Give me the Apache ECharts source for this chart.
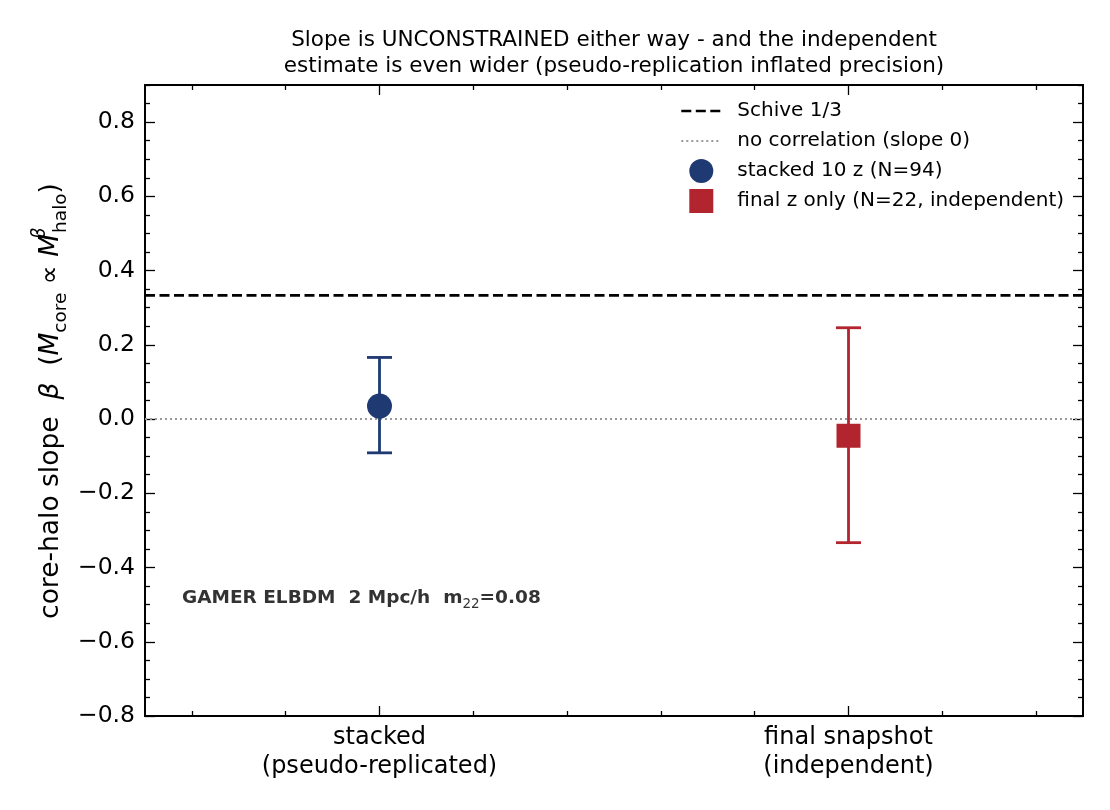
<!DOCTYPE html>
<html>
<head>
<meta charset="utf-8">
<script src="https://cdn.jsdelivr.net/npm/echarts@6/dist/echarts.min.js"></script>
<style>html,body{margin:0;padding:0;background:#fff}#c{width:1110px;height:810px}</style>
</head>
<body>
<div id="c"></div>
<script>
// ---- data ----
const categories = ['stacked\n(pseudo-replicated)', 'final snapshot\n(independent)'];
const xPos = [0, 1];
const slopes = [0.035, -0.045];
const errLow = [-0.091, -0.333];
const errHigh = [0.166, 0.246];
const seriesNames = ['stacked 10 z (N=94)', 'final z only (N=22, independent)'];
const schiveSlope = 1 / 3;
const zeroSlope = 0;
const yTickLabels = [-0.8, -0.6, -0.4, -0.2, 0.0, 0.2, 0.4, 0.6, 0.8];
const xMinorTicks = [-0.4, -0.2, 0.2, 0.4, 0.6, 0.8, 1.2, 1.4];

// ---- style ----
const FONT = 'DejaVu Sans';
const colors = ['#1f3a72', '#b3252e'];
const X_MIN = -0.5, X_MAX = 1.5, Y_MIN = -0.8, Y_MAX = 0.9;
const yMinorTicks = [];
for (let i = -16; i <= 18; i++) {
  const v = +(i * 0.05).toFixed(2);
  if (i % 4 !== 0) yMinorTicks.push(v);
}
const fmt = v => (Math.abs(v) < 1e-9 ? '0.0' : v.toFixed(1)).replace('-', '\u2212');
const schiveStyle = {color: '#000', width: 2.6, type: [10, 4.5]};
const zeroStyle = {color: '#999999', width: 2, type: [2, 3]};

function xAx(pos, ticks, len, labels) {
  return {
    type: 'value', position: pos, min: X_MIN, max: X_MAX,
    splitLine: {show: false},
    axisLine: {show: true, onZero: false, lineStyle: {color: '#000', width: 1.8}},
    axisTick: {show: true, inside: true, length: len, customValues: ticks, lineStyle: {color: '#000', width: 1.3}},
    axisLabel: labels ? {
      show: true, customValues: xPos, margin: 7, fontSize: 24, lineHeight: 29, fontFamily: FONT, color: '#000',
      formatter: v => categories[xPos.indexOf(Math.round(v))] || ''
    } : {show: false}
  };
}
function yAx(pos, ticks, len, labels) {
  return {
    type: 'value', position: pos, min: Y_MIN, max: Y_MAX,
    splitLine: {show: false},
    axisLine: {show: true, onZero: false, lineStyle: {color: '#000', width: 1.8}},
    axisTick: {show: true, inside: true, length: len, customValues: ticks, lineStyle: {color: '#000', width: 1.3}},
    axisLabel: labels ? {
      show: true, customValues: yTickLabels, margin: 10, fontSize: 23.5, fontFamily: FONT, color: '#000',
      formatter: fmt
    } : {show: false}
  };
}

const chart = echarts.init(document.getElementById('c'), null, {renderer: 'canvas'});
const option = {
  animation: false,
  backgroundColor: '#fff',
  grid: {left: 145, top: 85, right: 27, bottom: 94, containLabel: false},
  xAxis: [
    xAx('bottom', xPos, 10, true),
    xAx('bottom', xMinorTicks, 5, false),
    xAx('top', xPos, 10, false),
    xAx('top', xMinorTicks, 5, false)
  ],
  yAxis: [
    yAx('left', yTickLabels, 10, true),
    yAx('left', yMinorTicks, 5, false),
    yAx('right', yTickLabels, 10, false),
    yAx('right', yMinorTicks, 5, false)
  ],
  legend: {
    orient: 'vertical', left: 675, top: 94, itemWidth: 40, itemHeight: 24, itemGap: 6,
    selectedMode: false, symbolKeepAspect: true,
    lineStyle: {width: 2.6},
    textStyle: {fontSize: 20, lineHeight: 24, fontFamily: FONT, color: '#000', padding: [0, 0, 0, 11]},
    data: [
      {name: 'Schive 1/3', itemStyle: {opacity: 0}, lineStyle: schiveStyle},
      {name: 'no correlation (slope 0)', itemStyle: {opacity: 0}, lineStyle: zeroStyle},
      {name: seriesNames[0], icon: 'circle'},
      {name: seriesNames[1], icon: 'path://M0,0L10,0L10,10L0,10Z'}
    ]
  },
  graphic: [
    {
      type: 'text', x: 614, y: 27,
      style: {
        text: 'Slope is UNCONSTRAINED either way - and the independent\nestimate is even wider (pseudo-replication inflated precision)',
        fontSize: 21.5, lineHeight: 26, fontFamily: FONT, fill: '#000', align: 'center', verticalAlign: 'top'
      }
    },
    {
      type: 'text', x: 182, y: 598,
      style: {
        text: '{b|GAMER ELBDM  2 Mpc/h  m}{s|22}{b|=0.08}',
        verticalAlign: 'middle', align: 'left', fill: '#333',
        rich: {
          b: {fontSize: 18.5, fontWeight: 'bold', fontFamily: FONT, fill: '#333', lineHeight: 26},
          s: {fontSize: 13.5, fontFamily: FONT, fill: '#333', lineHeight: 14, verticalAlign: 'bottom'}
        }
      }
    },
    {
      type: 'text', x: 51, y: 401, rotation: Math.PI / 2,
      style: {
        text: '{n|core-halo slope  }{i|\u03b2}{n|  (}{i|M}{sb|core}{n| \u221d }{i|M}{sp|\u03b2}{sb|halo}{n|)}',
        align: 'center', verticalAlign: 'middle', fill: '#000',
        rich: {
          n: {fontSize: 26.5, fontFamily: FONT, lineHeight: 40, fill: '#000'},
          i: {fontSize: 26.5, fontFamily: FONT, fontStyle: 'italic', lineHeight: 40, fill: '#000'},
          sb: {fontSize: 18.5, fontFamily: FONT, lineHeight: 16, verticalAlign: 'bottom', fill: '#000'},
          sp: {fontSize: 18.5, fontFamily: FONT, fontStyle: 'italic', lineHeight: 16, verticalAlign: 'top', width: 1, fill: '#000'}
        }
      }
    }
  ],
  series: [
    {
      name: 'no correlation (slope 0)', type: 'line', xAxisIndex: 0, yAxisIndex: 0,
      data: [[X_MIN, zeroSlope], [X_MAX, zeroSlope]], symbol: 'none', z: 1,
      lineStyle: zeroStyle, itemStyle: {color: '#999999'}
    },
    {
      name: 'Schive 1/3', type: 'line', xAxisIndex: 0, yAxisIndex: 0,
      data: [[X_MIN, schiveSlope], [X_MAX, schiveSlope]], symbol: 'none', z: 2,
      lineStyle: schiveStyle, itemStyle: {color: '#000'}
    },
    {
      name: 'errorbars', type: 'custom', xAxisIndex: 0, yAxisIndex: 0, z: 3,
      data: xPos.map((x, i) => [x, errLow[i], errHigh[i]]),
      renderItem: function (params, api) {
        const x = api.value(0), lo = api.value(1), hi = api.value(2);
        const p1 = api.coord([x, lo]), p2 = api.coord([x, hi]);
        const c = colors[params.dataIndex];
        const hw = 12.5;
        const st = {stroke: c, lineWidth: 2.8};
        return {
          type: 'group', children: [
            {type: 'line', shape: {x1: p1[0], y1: p1[1], x2: p2[0], y2: p2[1]}, style: st},
            {type: 'line', shape: {x1: p1[0] - hw, y1: p1[1], x2: p1[0] + hw, y2: p1[1]}, style: st},
            {type: 'line', shape: {x1: p2[0] - hw, y1: p2[1], x2: p2[0] + hw, y2: p2[1]}, style: st}
          ]
        };
      }
    },
    {
      name: seriesNames[0], type: 'scatter', xAxisIndex: 0, yAxisIndex: 0, z: 4,
      symbol: 'circle', symbolSize: 25, itemStyle: {color: colors[0], opacity: 1},
      data: [[xPos[0], slopes[0]]]
    },
    {
      name: seriesNames[1], type: 'scatter', xAxisIndex: 0, yAxisIndex: 0, z: 4,
      symbol: 'rect', symbolSize: 24, itemStyle: {color: colors[1], opacity: 1},
      data: [[xPos[1], slopes[1]]]
    }
  ]
};
chart.setOption(option);
</script>
</body>
</html>
